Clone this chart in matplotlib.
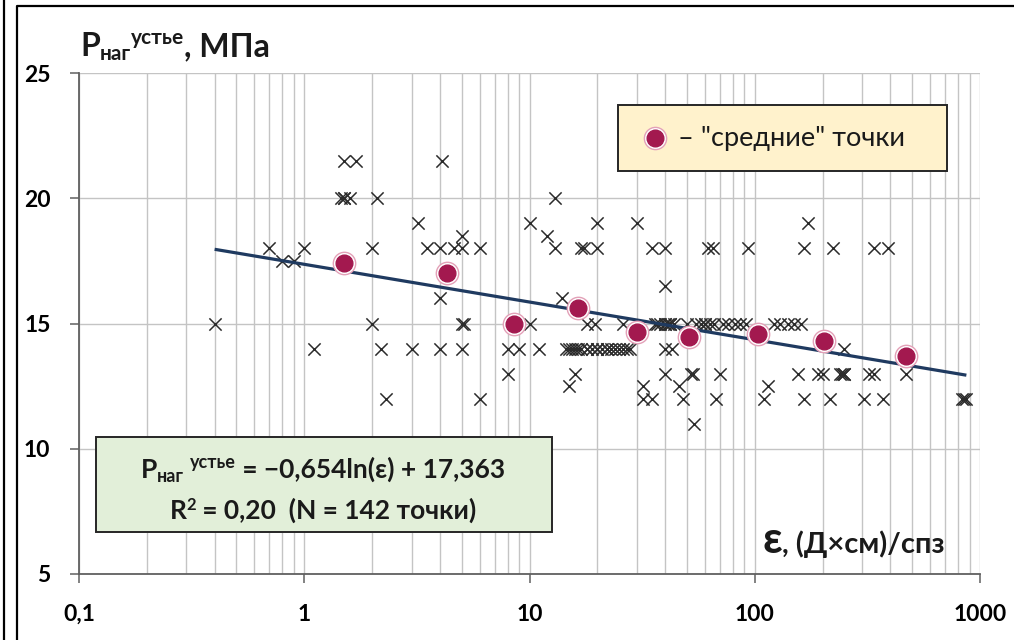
import matplotlib
matplotlib.use("Agg")
import numpy as np
import matplotlib.pyplot as plt
from matplotlib.lines import Line2D
from matplotlib.patches import Rectangle
from matplotlib.ticker import LogLocator, NullFormatter, FixedLocator

W, H = 1014, 640
FONT = ["Lato", "DejaVu Sans"]
plt.rcParams["font.family"] = FONT

# ---- data -------------------------------------------------------------
eps_values = [
    0.4, 0.7, 0.8, 0.9, 1.0, 1.1,
    1.5, 1.7, 1.45, 1.5, 1.6, 2.1, 2.0, 2.0, 2.2, 2.3,
    3.2, 3.0, 4.1, 3.5, 4.0, 4.6, 5.0, 6.0, 5.0, 4.0, 4.0, 5.0, 5.1, 5.0, 6.0,
    8, 9, 11, 8, 10, 10, 12, 13, 13,
    20, 17, 17.5, 20, 14, 18, 19.5, 16, 15,
    14.5, 15, 15.5, 16, 16.5, 17, 18, 19, 20, 21, 22, 23, 24, 25, 26, 27, 28,
    30, 35, 40, 40, 62, 65, 93, 172, 165, 222, 338, 390,
    26, 36, 37, 38, 40, 41, 42, 44, 50, 55, 58, 60, 63, 66, 72, 76, 82, 86, 91,
    122, 130, 140, 150, 160,
    40, 43, 250,
    40, 52, 53, 70, 155, 190, 200, 240, 245, 250, 320, 340, 470,
    32, 46, 115,
    32, 35, 48, 67, 110, 165, 215, 305, 370, 830, 870,
    54,
    18, 20, 22, 40, 42, 60, 250, 850, 1.5,
]
p_values = [
    15, 18, 17.5, 17.5, 18, 14,
    21.5, 21.5, 20, 20, 20, 20, 18, 15, 14, 12,
    19, 14, 21.5, 18, 18, 18, 18, 18, 18.5, 16, 14, 15, 15, 14, 12,
    14, 14, 14, 13, 15, 19, 18.5, 18, 20,
    19, 18, 18, 18, 16, 15, 15, 13, 12.5,
    14, 14, 14, 14, 14, 14, 14, 14, 14, 14, 14, 14, 14, 14, 14, 14, 14,
    19, 18, 18, 16.5, 18, 18, 18, 19, 18, 18, 18, 18,
    15, 15, 15, 15, 15, 15, 15, 15, 15, 15, 15, 15, 15, 15, 15, 15, 15, 15, 15,
    15, 15, 15, 15, 15,
    14, 14, 14,
    13, 13, 13, 13, 13, 13, 13, 13, 13, 13, 13, 13, 13,
    12.5, 12.5, 12.5,
    12, 12, 12, 12, 12, 12, 12, 12, 12, 12, 12,
    11,
    14, 14, 14, 15, 15, 15, 13, 12, 20,
]

mean_eps = [1.5, 4.3, 8.5, 16.5, 30, 51, 103, 203, 469]
mean_p = [17.4, 17.0, 15.0, 15.6, 14.65, 14.45, 14.6, 14.3, 13.7]

fit_slope = -0.654
fit_intercept = 17.363

x_ticks = [0.1, 1, 10, 100, 1000]
x_tick_labels = ["0,1", "1", "10", "100", "1000"]
y_ticks = [5, 10, 15, 20, 25]
y_tick_labels = ["5", "10", "15", "20", "25"]

# ---- figure -----------------------------------------------------------
fig = plt.figure(figsize=(W / 100, H / 100), dpi=100)
fig.patch.set_facecolor("white")


def fx(x):
    return x / W


def fy(y):
    return 1 - y / H


ax = fig.add_axes([fx(79), fy(574), (980 - 79) / W, (574 - 73) / H])
ax.set_xscale("log")
ax.set_xlim(0.1, 1000)
ax.set_ylim(5, 25)
ax.set_axisbelow(True)

ax.xaxis.set_major_locator(FixedLocator(x_ticks))
ax.set_xticklabels(x_tick_labels, fontsize=16.5, fontweight="bold")
ax.xaxis.set_minor_locator(LogLocator(base=10, subs=np.arange(2, 10)))
ax.xaxis.set_minor_formatter(NullFormatter())
ax.set_yticks(y_ticks)
ax.set_yticklabels(y_tick_labels, fontsize=16.5, fontweight="bold")

grid_c = "#c4c4c4"
ax.grid(which="both", axis="x", color=grid_c, lw=1.0)
ax.grid(which="major", axis="y", color=grid_c, lw=1.0)
ax.tick_params(which="minor", length=0)
ax.tick_params(which="major", length=6.5, width=1.1, color="#606060",
               direction="out")
ax.tick_params(axis="y", pad=14)
ax.tick_params(axis="x", pad=15)
for side in ("top", "right"):
    ax.spines[side].set_visible(False)
for side in ("left", "bottom"):
    ax.spines[side].set_color("#606060")
    ax.spines[side].set_linewidth(1.3)

# individual measurements
ax.scatter(eps_values, p_values, marker="x", s=78, linewidths=1.1,
           color="#2b2b2b", zorder=3)

# logarithmic trend over the data range
xs = np.logspace(np.log10(min(eps_values)), np.log10(max(eps_values)), 300)
ax.plot(xs, fit_slope * np.log(xs) + fit_intercept, color="#1f3a60",
        lw=2.3, zorder=4, solid_capstyle="butt")

# averaged points
ax.scatter(mean_eps, mean_p, s=260, facecolor="white", edgecolor="#e3a1b8",
           linewidths=1.0, zorder=5)
ax.scatter(mean_eps, mean_p, s=145, color="#a3194f", zorder=6)

# ---- text helpers -----------------------------------------------------
renderer = fig.canvas.get_renderer()


def draw_runs(x_px, base_px, runs, align="left"):
    """Place a sequence of text runs side by side on one baseline.
    runs: (text, size, rise_px, bold, gap_px_before)"""
    items = []
    total = 0
    for text, size, rise, bold, gap in runs:
        t = fig.text(0, 0, text, fontsize=size,
                     fontweight="bold" if bold else "normal",
                     family=FONT, va="baseline", ha="left", color="#1a1a1a")
        w = t.get_window_extent(renderer).width
        items.append((t, rise, gap, w))
        total += gap + w
    x = x_px - total / 2 if align == "center" else x_px
    for t, rise, gap, w in items:
        x += gap
        t.set_position((fx(x), fy(base_px - rise)))
        x += w


# axis captions
draw_runs(80, 56, [("Р", 23, 0, True, 0), ("наг", 15, -4, True, 0),
                   ("устье", 15, 12, True, 0), (", МПа", 23, 0, True, 0)])
draw_runs(762, 553, [("ε", 31, 0, True, 0), (", (Д×см)/спз", 21, 0, True, 0)])

# legend panel
fig.add_artist(Rectangle((fx(618), fy(171)), (947 - 618) / W, (171 - 105) / H,
                         transform=fig.transFigure, facecolor="#fff2cc",
                         edgecolor="#262626", lw=1.4, zorder=10))
fig.add_artist(Line2D([fx(655)], [fy(138)], marker="o", ms=16,
                      markerfacecolor="white", markeredgecolor="#e3a1b8",
                      markeredgewidth=1.0, transform=fig.transFigure, zorder=11))
fig.add_artist(Line2D([fx(655)], [fy(138)], marker="o", ms=12,
                      markerfacecolor="#a3194f", markeredgecolor="#a3194f",
                      transform=fig.transFigure, zorder=12))
draw_runs(678, 146, [("– \"средние\" точки", 19.5, 0, False, 0)])

# regression panel
fig.add_artist(Rectangle((fx(96), fy(532)), (552 - 96) / W, (532 - 437) / H,
                         transform=fig.transFigure, facecolor="#e2efd9",
                         edgecolor="#262626", lw=1.4, zorder=10))
draw_runs(323, 478, [("Р", 19, 0, True, 0), ("наг", 13, -4, True, 0),
                     ("устье", 13, 10, True, 6),
                     (" = −0,654ln(ε) + 17,363", 19, 0, True, 0)],
          align="center")
draw_runs(323, 519, [("R", 19, 0, True, 0), ("2", 12, 9, True, 0),
                     (" = 0,20  (N = 142 точки)", 19, 0, True, 0)],
          align="center")

for t in fig.texts:
    t.set_zorder(13)

# outer frame
fig.add_artist(Line2D([fx(4), fx(4)], [0, 1], color="black", lw=1.6,
                      transform=fig.transFigure))
fig.add_artist(Line2D([fx(17), fx(17), 1.0], [0, fy(6), fy(6)], color="black",
                      lw=1.6, transform=fig.transFigure))

fig.savefig("out.png", dpi=100, facecolor="white")
